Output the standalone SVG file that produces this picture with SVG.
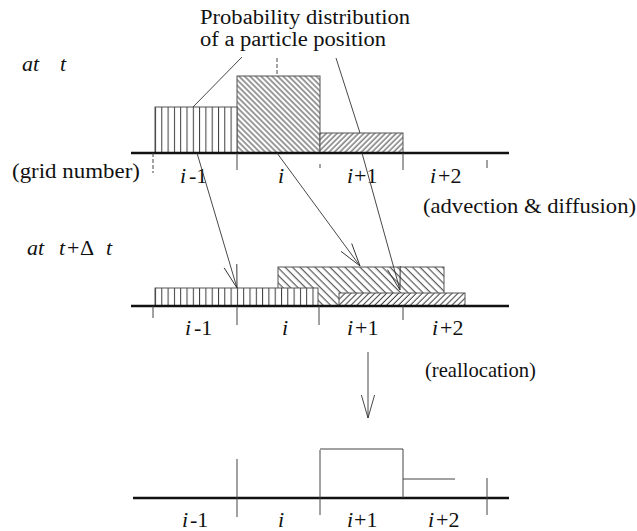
<svg xmlns="http://www.w3.org/2000/svg" width="637" height="531" viewBox="0 0 637 531" font-family="'Liberation Serif', 'DejaVu Serif', serif">
<style>
text{font-family:'Liberation Serif','DejaVu Serif',serif;font-size:22px;fill:#111}
.it{font-style:italic}
.sm{font-size:20px}
.base{stroke:#111;stroke-width:2.4;fill:none}
.tick{stroke:#444;stroke-width:1;fill:none}
.box{stroke:#555;stroke-width:1}
.conn{stroke:#333;stroke-width:0.9;fill:none}
.hl{stroke:#3a3a3a;stroke-width:1}
</style>
<defs>
<pattern id="vert" patternUnits="userSpaceOnUse" x="155" y="0" width="6.3" height="10"><line class="hl" x1="0.5" y1="0" x2="0.5" y2="10"/></pattern>
<pattern id="bkA" patternUnits="userSpaceOnUse" width="3.9" height="10" patternTransform="rotate(-45)"><line class="hl" x1="2" y1="0" x2="2" y2="10"/></pattern>
<pattern id="bkB" patternUnits="userSpaceOnUse" width="5.3" height="10" patternTransform="rotate(-45)"><line class="hl" x1="2" y1="0" x2="2" y2="10"/></pattern>
<pattern id="fwA" patternUnits="userSpaceOnUse" width="3.8" height="10" patternTransform="rotate(45)"><line class="hl" x1="2" y1="0" x2="2" y2="10"/></pattern>
<pattern id="fwB" patternUnits="userSpaceOnUse" width="4.2" height="10" patternTransform="rotate(45)"><line class="hl" x1="2" y1="0" x2="2" y2="10"/></pattern>
<marker id="vhead" markerUnits="userSpaceOnUse" viewBox="-25 -8 27 16" refX="0" refY="0" markerWidth="27" markerHeight="16" orient="auto" overflow="visible">
<path d="M-23,-6.6 L0,0 L-23,6.6" fill="none" stroke="#333" stroke-width="0.9"/>
</marker>
</defs>

<g id="labels">
<text class="sm" x="200" y="24" textLength="210" lengthAdjust="spacingAndGlyphs">Probability distribution</text>
<text class="sm" x="200" y="46" textLength="186" lengthAdjust="spacingAndGlyphs">of a particle position</text>
<text class="it" y="71"><tspan x="22">at</tspan><tspan x="60">t</tspan></text>
<text x="12" y="178" textLength="128" lengthAdjust="spacingAndGlyphs">(grid number)</text>
<text y="255"><tspan class="it" x="27">at</tspan><tspan class="it" x="59">t</tspan><tspan x="67">+</tspan><tspan x="80">Δ</tspan><tspan class="it" x="106">t</tspan></text>
<text x="423" y="213" textLength="213" lengthAdjust="spacingAndGlyphs">(advection &amp; diffusion)</text>
<text x="425" y="377" textLength="111" lengthAdjust="spacingAndGlyphs">(reallocation)</text>
</g>

<g id="row-t">
<rect x="237" y="76" width="83" height="77" fill="#fff"/>
<rect x="237" y="76" width="83" height="77" fill="url(#bkA)" class="box"/>
<rect x="155" y="107" width="82" height="46" fill="#fff"/>
<rect x="155" y="107" width="82" height="46" fill="url(#vert)" class="box"/>
<rect x="320" y="133" width="83" height="20" fill="#fff"/>
<rect x="320" y="133" width="83" height="20" fill="url(#fwA)" class="box"/>
<line class="base" x1="131" y1="153" x2="509" y2="153"/>
<line class="tick" x1="153" y1="153" x2="153" y2="173" stroke-dasharray="4 2"/>
<line class="tick" x1="237" y1="153" x2="237" y2="170"/>
<line class="tick" x1="320" y1="164" x2="320" y2="168" stroke="#999"/>
<line class="tick" x1="403" y1="153" x2="403" y2="170"/>
<line class="tick" x1="487" y1="160" x2="487" y2="168" stroke="#999"/>
<text y="183"><tspan class="it" x="180">i</tspan><tspan x="189">-1</tspan></text>
<text class="it" x="278" y="183">i</text>
<text y="183"><tspan class="it" x="347">i</tspan><tspan x="354">+1</tspan></text>
<text y="183"><tspan class="it" x="430">i</tspan><tspan x="438">+2</tspan></text>
</g>

<g id="row-tdt">
<rect x="278" y="267" width="166" height="39" fill="#fff"/>
<rect x="278" y="267" width="166" height="39" fill="url(#bkB)" class="box"/>
<rect x="155" y="288" width="163" height="18" fill="#fff"/>
<rect x="155" y="288" width="163" height="18" fill="url(#vert)" class="box"/>
<rect x="339" y="293" width="126" height="13" fill="#fff"/>
<rect x="339" y="293" width="126" height="13" fill="url(#fwB)" class="box"/>
<line class="base" x1="131" y1="306" x2="509" y2="306"/>
<line class="tick" x1="153" y1="306" x2="153" y2="318"/>
<line class="tick" x1="237" y1="306" x2="237" y2="325"/>
<line class="tick" x1="319" y1="306" x2="319" y2="325"/>
<line class="tick" x1="403" y1="306" x2="403" y2="320"/>
<text y="335"><tspan class="it" x="185">i</tspan><tspan x="194">-1</tspan></text>
<text class="it" x="282" y="335">i</text>
<text y="335"><tspan class="it" x="347">i</tspan><tspan x="355">+1</tspan></text>
<text y="335"><tspan class="it" x="432">i</tspan><tspan x="440">+2</tspan></text>
</g>

<g id="row-realloc">
<line class="base" x1="133" y1="498" x2="509" y2="498"/>
<line class="tick" x1="237" y1="459" x2="237" y2="517"/>
<line class="tick" x1="320" y1="450" x2="320" y2="515"/>
<polyline class="tick" points="320,449 403,449 403,498"/>
<line class="tick" x1="403" y1="479" x2="455" y2="479"/>
<line class="tick" x1="487" y1="478" x2="487" y2="515"/>
<text y="527"><tspan class="it" x="182">i</tspan><tspan x="190">-1</tspan></text>
<text class="it" x="278" y="527">i</text>
<text y="527"><tspan class="it" x="347">i</tspan><tspan x="354">+1</tspan></text>
<text y="527"><tspan class="it" x="428">i</tspan><tspan x="436">+2</tspan></text>
</g>

<g id="connectors">
<line class="conn" x1="242" y1="57" x2="193" y2="107"/>
<line class="conn" x1="277" y1="58" x2="277" y2="76" stroke-dasharray="4 2"/>
<line class="conn" x1="336" y1="58" x2="360" y2="133"/>
<line class="conn" x1="197" y1="153" x2="237" y2="288" marker-end="url(#vhead)"/>
<line class="conn" x1="277" y1="153" x2="360" y2="266" marker-end="url(#vhead)"/>
<line class="conn" x1="362" y1="153" x2="400" y2="290" marker-end="url(#vhead)"/>
<line class="conn" x1="368" y1="352" x2="368" y2="418" marker-end="url(#vhead)"/>
</g>
</svg>
